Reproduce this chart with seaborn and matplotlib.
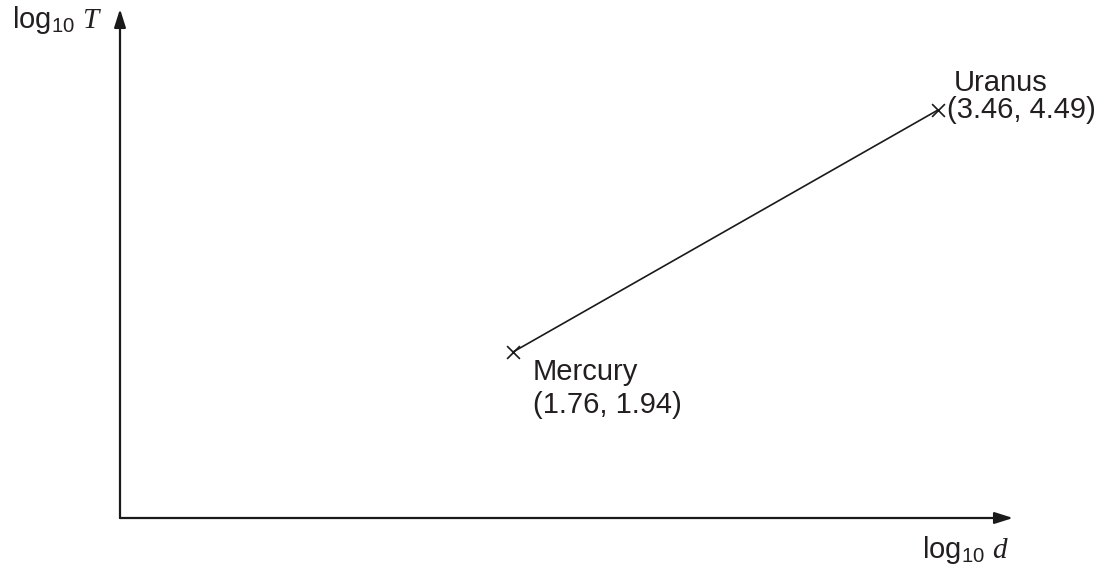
import seaborn as sns
import matplotlib.pyplot as plt
import pandas as pd

planets = ['Mercury', 'Uranus']
log_d = [1.76, 3.46]
log_T = [1.94, 4.49]

sns.set_style('white')
plt.rcParams['font.family'] = ['Liberation Sans', 'DejaVu Sans']
plt.rcParams['mathtext.fontset'] = 'custom'
plt.rcParams['mathtext.rm'] = 'Liberation Sans'
plt.rcParams['mathtext.it'] = 'Liberation Serif:italic'

df = pd.DataFrame({'planet': planets, 'log_d': log_d, 'log_T': log_T})

fig = plt.figure(figsize=(11.1, 5.7), dpi=100)
ax = fig.add_axes([120 / 1110, 52 / 570, 893 / 1110, 509 / 570])
ax.set_xlim(0.188, 3.76)
ax.set_ylim(0.191, 5.554)
ax.axis('off')

sns.lineplot(data=df, x='log_d', y='log_T', color='#1a1a1a', lw=1.2, ax=ax)
sns.scatterplot(data=df, x='log_d', y='log_T', marker='x', s=85,
                color='#1a1a1a', linewidth=1.2, ax=ax, zorder=3)

# axes drawn as arrows
arrow = dict(arrowstyle='-|>,head_length=1.1,head_width=0.35', color='#1a1a1a', lw=1.6,
             shrinkA=0, shrinkB=0)
ax.annotate('', xy=(1, 0), xytext=(0, 0), xycoords='axes fraction', arrowprops=arrow)
ax.annotate('', xy=(0, 1), xytext=(0, 0), xycoords='axes fraction', arrowprops=arrow)

fs = 21
tc = '#231f20'
for p, x, y in zip(planets, log_d, log_T):
    lab = '(%.2f, %.2f)' % (x, y)
    if p == 'Uranus':
        ax.annotate(p, (x, y), xytext=(16, 27), textcoords='offset pixels',
                    ha='left', va='center', fontsize=fs, color=tc)
        ax.annotate(lab, (x, y), xytext=(9, 0), textcoords='offset pixels',
                    ha='left', va='center', fontsize=fs, color=tc)
    else:
        ax.annotate(p, (x, y), xytext=(20, -20), textcoords='offset pixels',
                    ha='left', va='center', fontsize=fs, color=tc)
        ax.annotate(lab, (x, y), xytext=(20, -53), textcoords='offset pixels',
                    ha='left', va='center', fontsize=fs, color=tc)

fig.text(12 / 1110, 1 - 20 / 570, r'log$_{10}$ $T$', fontsize=fs, color=tc,
         ha='left', va='center')
fig.text(922 / 1110, 1 - 550 / 570, r'log$_{10}$ $d$', fontsize=fs, color=tc,
         ha='left', va='center')

fig.savefig('out.png', dpi=100)
